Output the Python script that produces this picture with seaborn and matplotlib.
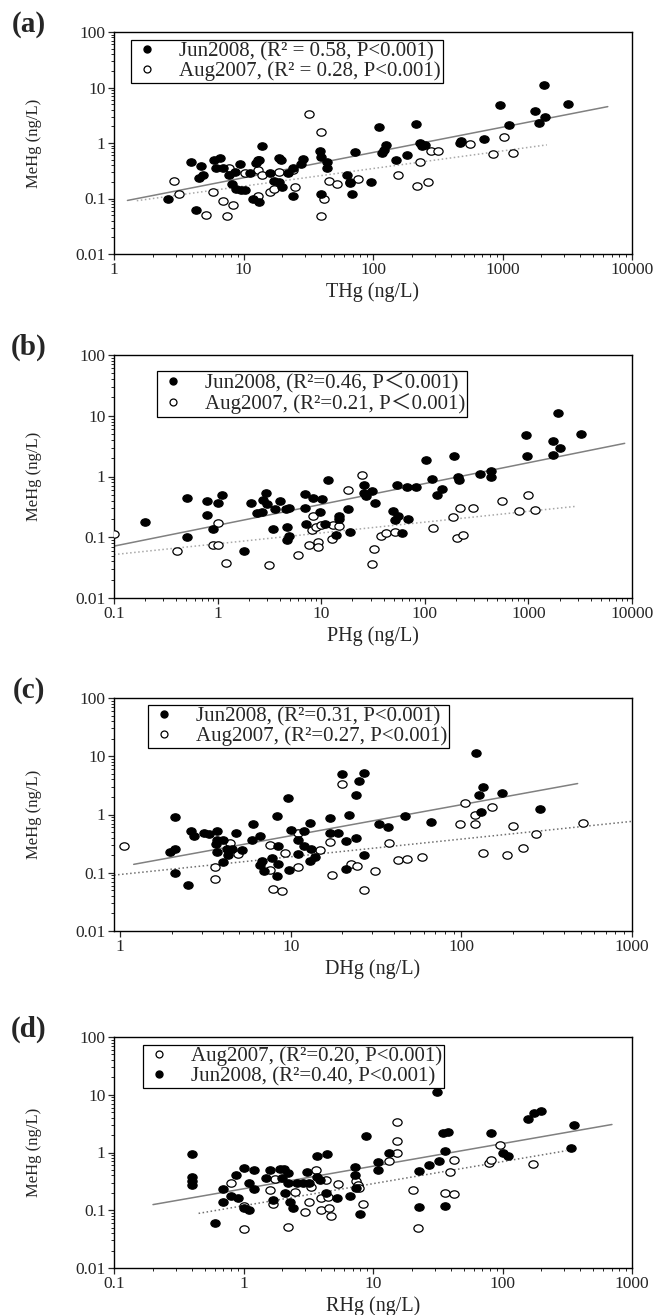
import numpy as np
import pandas as pd
import matplotlib
matplotlib.use("Agg")
import matplotlib.pyplot as plt
import matplotlib.path as mpath
from matplotlib.ticker import LogLocator, FuncFormatter, NullFormatter
from matplotlib.lines import Line2D
import seaborn as sns

# ---- data (ng/L) ----
# (a) THg
a_jun_x = [2.6, 3.9, 4.3, 4.7, 4.5, 4.9, 5.9, 6.6, 6.1, 6.9, 7.7, 8.2, 8.6, 8.8, 9.4, 9.5, 10.2, 11.2, 11.9, 13.2,
           12.5, 13.2, 14, 16, 17.3, 18.9, 19.5, 18.9, 20, 22, 24, 24, 28, 29, 39, 40, 40, 44, 44, 63,
           66, 67, 69, 73, 97, 112, 117, 122, 126, 151, 182, 214, 229, 240, 251, 468, 480, 724, 955, 1120,
           1780, 1900, 2090, 2140, 3230]
a_jun_y = [0.1, 0.45, 0.063, 0.39, 0.23, 0.26, 0.49, 0.53, 0.36, 0.36, 0.26, 0.18, 0.30, 0.15, 0.41, 0.14, 0.14, 0.29, 0.1, 0.087,
           0.43, 0.49, 0.88, 0.29, 0.21, 0.53, 0.49, 0.2, 0.16, 0.29, 0.11, 0.36, 0.41, 0.51, 0.72, 0.55, 0.12, 0.46, 0.36, 0.27,
           0.2, 0.19, 0.12, 0.68, 0.2, 1.95, 0.65, 0.75, 0.92, 0.49, 0.61, 2.2, 1.0, 0.9, 0.93, 1.0, 1.1, 1.2, 4.9, 2.15,
           3.8, 2.3, 11, 3.0, 5.1]
a_aug_x = [2.9, 3.2, 5.1, 5.8, 7.0, 7.4, 7.7, 8.3, 10.2, 13, 13, 13, 14, 16, 17.3, 18.9, 24, 25, 32, 40,
           40, 42, 46, 53, 77, 157, 219, 229, 265, 281, 318, 560, 845, 1030, 1200]
a_aug_y = [0.21, 0.12, 0.051, 0.13, 0.091, 0.049, 0.36, 0.077, 0.29, 0.49, 0.32, 0.11, 0.26, 0.13, 0.15, 0.3, 0.33, 0.16, 3.4, 1.6,
           0.049, 0.1, 0.21, 0.18, 0.22, 0.27, 0.17, 0.46, 0.2, 0.72, 0.72, 0.96, 0.63, 1.3, 0.66]

# (b) PHg
b_jun_x = [0.2, 0.51, 0.51, 0.79, 0.79, 0.9, 1.0, 1.1, 1.8, 2.1, 2.4, 2.7, 2.75, 2.9, 3.0, 3.4, 3.6, 4.0, 4.6, 4.7,
           4.7, 4.9, 4.9, 6.9, 6.9, 7.1, 8.3, 9.7, 10.2, 11.7, 11, 14, 15, 15, 18, 19, 26, 26, 27, 31,
           33, 49, 52, 55, 54, 60, 68, 69, 83, 102, 117, 132, 145, 190, 209, 214, 340, 437, 437, 940,
           980, 1740, 1740, 1940, 2030, 3240]
b_jun_y = [0.18, 0.45, 0.1, 0.39, 0.23, 0.135, 0.36, 0.49, 0.06, 0.36, 0.25, 0.26, 0.41, 0.53, 0.35, 0.135, 0.29, 0.40, 0.29, 0.15,
           0.091, 0.105, 0.3, 0.52, 0.3, 0.165, 0.45, 0.26, 0.42, 0.88, 0.165, 0.11, 0.2, 0.225, 0.29, 0.12, 0.73, 0.53, 0.47, 0.57,
           0.36, 0.27, 0.19, 0.22, 0.73, 0.117, 0.68, 0.2, 0.66, 1.9, 0.92, 0.5, 0.62, 2.2, 1.0, 0.88, 1.1, 1.24, 1.0, 4.8,
           2.2, 3.8, 2.27, 11.3, 2.9, 5.1]
b_aug_x = [0.1, 0.41, 0.9, 1.0, 1.0, 1.2, 3.1, 6.0, 7.7, 8.1, 8.3, 9, 9.3, 9.3, 10, 12.8, 13, 15, 18, 25,
           32, 31, 38, 42, 51, 120, 186, 205, 219, 234, 295, 550, 820, 1000, 1170]
b_aug_y = [0.115, 0.06, 0.075, 0.075, 0.17, 0.038, 0.035, 0.051, 0.075, 0.13, 0.225, 0.15, 0.083, 0.068, 0.16, 0.093, 0.16, 0.155, 0.59, 1.06,
           0.065, 0.036, 0.104, 0.117, 0.12, 0.14, 0.215, 0.097, 0.3, 0.11, 0.3, 0.39, 0.27, 0.5, 0.28]

# (c) DHg
c_jun_x = [1.97, 2.1, 2.1, 2.1, 2.5, 2.6, 2.7, 3.1, 3.3, 3.7, 3.7, 3.66, 3.7, 4.0, 4.0, 4.2, 4.3, 4.5, 4.8, 5.2,
           5.9, 6.0, 6.6, 6.6, 6.8, 7.0, 7.8, 8.3, 8.4, 8.3, 8.4, 9.6, 9.7, 10, 11, 11, 12, 12, 13, 13,
           13.1, 13.9, 17, 17, 19, 20, 21, 21, 22, 24, 24, 25, 27, 27, 33, 37, 46.5, 66, 121, 126,
           130, 134, 174, 288]
c_jun_y = [0.23, 0.26, 0.89, 0.1, 0.061, 0.52, 0.42, 0.49, 0.46, 0.52, 0.37, 0.31, 0.23, 0.37, 0.15, 0.26, 0.2, 0.26, 0.49, 0.25,
           0.36, 0.68, 0.42, 0.135, 0.16, 0.107, 0.18, 0.93, 0.29, 0.089, 0.14, 1.95, 0.11, 0.55, 0.36, 0.21, 0.52, 0.29, 0.72, 0.16,
           0.26, 0.19, 0.88, 0.49, 0.49, 4.9, 0.35, 0.118, 1.0, 2.2, 0.4, 3.8, 0.2, 5.2, 0.68, 0.62, 0.94, 0.73, 11.3, 2.2,
           1.1, 3.0, 2.3, 1.22]
c_aug_x = [1.05, 3.6, 3.6, 4.4, 4.9, 7.6, 7.6, 7.9, 8.9, 9.2, 11, 11, 14.8, 17, 17.5, 20, 22.4, 24.6, 27, 31,
           37.5, 42.6, 48, 59, 98, 105, 120, 120, 134, 152, 184, 200, 229, 275, 515]
c_aug_y = [0.29, 0.126, 0.078, 0.33, 0.21, 0.3, 0.11, 0.053, 0.049, 0.22, 0.49, 0.127, 0.25, 0.34, 0.093, 3.4, 0.14, 0.13, 0.05, 0.106,
           0.33, 0.165, 0.17, 0.19, 0.68, 1.6, 0.7, 1.0, 0.22, 1.33, 0.2, 0.64, 0.27, 0.47, 0.72]

# (d) RHg
d_jun_x = [0.4, 0.4, 0.4, 0.4, 0.6, 0.7, 0.7, 0.8, 0.88, 0.9, 1.0, 1.0, 1.1, 1.1, 1.2, 1.2, 1.48, 1.6, 1.7, 1.9,
           2.04, 2.0, 2.1, 2.2, 2.2, 2.3, 2.4, 2.6, 2.9, 3.1, 3.2, 3.7, 3.7, 3.9, 4.4, 4.3, 5.3, 6.6, 7.3, 7.3,
           7.4, 8.0, 8.8, 11, 11, 13.3, 22.6, 22.6, 27, 31, 32.5, 35, 36, 36, 38, 81, 100, 110, 158, 174,
           200, 355, 340]
d_jun_y = [0.93, 0.37, 0.32, 0.27, 0.06, 0.23, 0.137, 0.18, 0.41, 0.16, 0.54, 0.11, 0.1, 0.3, 0.49, 0.23, 0.36, 0.49, 0.15, 0.52,
           0.52, 0.36, 0.2, 0.44, 0.3, 0.137, 0.11, 0.3, 0.3, 0.46, 0.3, 0.88, 0.37, 0.34, 0.93, 0.2, 0.16, 0.18, 0.56, 0.41,
           0.24, 0.087, 1.95, 0.68, 0.49, 1.0, 0.47, 0.113, 0.61, 11.3, 0.72, 2.2, 1.08, 0.117, 2.3, 2.2, 1.0, 0.88, 3.8, 4.9,
           5.2, 3.0, 1.2]
d_aug_x = [0.8, 1.0, 1.0, 1.6, 1.7, 1.75, 2.2, 2.5, 3.0, 3.2, 3.3, 3.6, 4.0, 4.0, 4.3, 4.5, 4.6, 4.7, 5.4, 7.4,
           7.7, 7.8, 8.3, 13.3, 15.2, 15.2, 15.2, 20.4, 22.4, 39, 36, 42, 42, 79, 81, 96, 173]
d_aug_y = [0.3, 0.12, 0.048, 0.22, 0.13, 0.35, 0.052, 0.21, 0.093, 0.137, 0.25, 0.49, 0.1, 0.16, 0.33, 0.17, 0.11, 0.078, 0.29, 0.32,
           0.27, 0.24, 0.13, 0.7, 3.4, 1.6, 1.0, 0.22, 0.05, 0.46, 0.2, 0.19, 0.73, 0.66, 0.75, 1.34, 0.63]

panel_tags = ["(a)", "(b)", "(c)", "(d)"]
x_labels = ["THg (ng/L)", "PHg (ng/L)", "DHg (ng/L)", "RHg (ng/L)"]
x_limits = [(1, 10000), (0.1, 10000), (0.92, 1000), (0.1, 1000)]
jun_labels = ["Jun2008, (R\u00b2 = 0.58, P<0.001)", "Jun2008, (R\u00b2=0.46, P\uff1c0.001)",
              "Jun2008, (R\u00b2=0.31, P<0.001)", "Jun2008, (R\u00b2=0.40, P<0.001)"]
aug_labels = ["Aug2007, (R\u00b2 = 0.28, P<0.001)", "Aug2007, (R\u00b2=0.21, P\uff1c0.001)",
              "Aug2007, (R\u00b2=0.27, P<0.001)", "Aug2007, (R\u00b2=0.20, P<0.001)"]
# visible extent of each regression line
jun_fit_span = [(1.27, 6500), (0.1, 8500), (1.2, 480), (0.2, 700)]
aug_fit_span = [(1.5, 2200), (0.1, 2900), (0.92, 1000), (0.45, 310)]

series = [
    (a_jun_x, a_jun_y, a_aug_x, a_aug_y),
    (b_jun_x, b_jun_y, b_aug_x, b_aug_y),
    (c_jun_x, c_jun_y, c_aug_x, c_aug_y),
    (d_jun_x, d_jun_y, d_aug_x, d_aug_y),
]

sns.set_style("ticks")
plt.rcParams["font.family"] = ["Liberation Serif", "Noto Sans CJK SC"]

W, H = 663, 1315
fig = plt.figure(figsize=(W / 100, H / 100), dpi=100)

# axes boxes in pixels: (top, bottom)
boxes = [(32, 254), (355, 598), (698, 931), (1037, 1268)]
left_px, right_px = 114, 632
legend_anchor = [(0.033, 0.964), (0.083, 0.934), (0.066, 0.97), (0.056, 0.967)]
aug_line_colors = ["#a8a8a8", "#a8a8a8", "#707070", "#707070"]

# slightly squashed circle, like the printed markers
circ = mpath.Path.unit_circle()
ell = mpath.Path(circ.vertices * np.array([1.0, 0.8]), circ.codes)

for i, (top, bot) in enumerate(boxes):
    ax = fig.add_axes([left_px / W, 1 - bot / H, (right_px - left_px) / W, (bot - top) / H])
    jx, jy, ax_, ay = series[i]
    df_j = pd.DataFrame({"x": jx, "y": jy})
    df_a = pd.DataFrame({"x": ax_, "y": ay})

    ax.set_xscale("log")
    ax.set_yscale("log")

    # regression lines (log-log least squares)
    for df, span, style, col in [(df_j, jun_fit_span[i], "-", "#808080"),
                                 (df_a, aug_fit_span[i], ":", aug_line_colors[i])]:
        k, b = np.polyfit(np.log10(df["x"]), np.log10(df["y"]), 1)
        xs = np.array(span)
        line = pd.DataFrame({"x": xs, "y": 10 ** (b + k * np.log10(xs))})
        sns.lineplot(data=line, x="x", y="y", ax=ax, color=col, linestyle=style, lw=1.1)

    sns.scatterplot(data=df_a, x="x", y="y", ax=ax, marker=ell, s=44,
                    facecolor="white", edgecolor="black", linewidth=0.9, zorder=3)
    sns.scatterplot(data=df_j, x="x", y="y", ax=ax, marker=ell, s=44,
                    color="black", edgecolor="black", linewidth=0.9, zorder=4)

    ax.set_xlim(*x_limits[i])
    ax.set_ylim(0.01, 100)

    fmt = FuncFormatter(lambda v, _: f"{v:g}")
    ax.xaxis.set_major_locator(LogLocator(base=10, numticks=12))
    ax.xaxis.set_minor_locator(LogLocator(base=10, subs=np.arange(2, 10), numticks=12))
    ax.yaxis.set_major_locator(LogLocator(base=10, numticks=12))
    ax.yaxis.set_minor_locator(LogLocator(base=10, subs=np.arange(2, 10), numticks=12))
    ax.xaxis.set_major_formatter(fmt)
    ax.yaxis.set_major_formatter(fmt)
    ax.xaxis.set_minor_formatter(NullFormatter())
    ax.yaxis.set_minor_formatter(NullFormatter())
    ax.tick_params(which="major", direction="out", length=4, width=0.9, labelsize=12.5,
                   top=False, right=False, pad=2)
    ax.tick_params(which="minor", direction="out", length=2.2, width=0.7, top=False, right=False)
    for sp in ax.spines.values():
        sp.set_linewidth(1.0)
        sp.set_color("black")

    ax.set_xlabel(x_labels[i], fontsize=14.5)
    ax.set_ylabel("MeHg (ng/L)", fontsize=12)
    ax.xaxis.set_label_coords(0.5, -28 / (bot - top))
    ax.yaxis.set_label_coords(-(left_px - 42) / (right_px - left_px), 0.5)

    h_jun = Line2D([], [], ls="", marker="o", ms=5, mfc="black", mec="black")
    h_aug = Line2D([], [], ls="", marker="o", ms=5, mfc="white", mec="black", mew=0.9)
    if i == 3:
        handles, labels = [h_aug, h_jun], [aug_labels[i], jun_labels[i]]
    else:
        handles, labels = [h_jun, h_aug], [jun_labels[i], aug_labels[i]]
    leg = ax.legend(handles, labels, loc="upper left", bbox_to_anchor=legend_anchor[i],
                    fontsize=15, frameon=True, fancybox=False, framealpha=1,
                    edgecolor="black", borderpad=0.1, labelspacing=0.0,
                    handlelength=1.3, handletextpad=0.9, borderaxespad=0)
    leg.get_frame().set_linewidth(0.9)

    fig.text(29 / W, 1 - (top - 8) / H, panel_tags[i], fontsize=21, fontweight="bold",
             ha="center", va="center")

fig.savefig("out.png", dpi=100)
